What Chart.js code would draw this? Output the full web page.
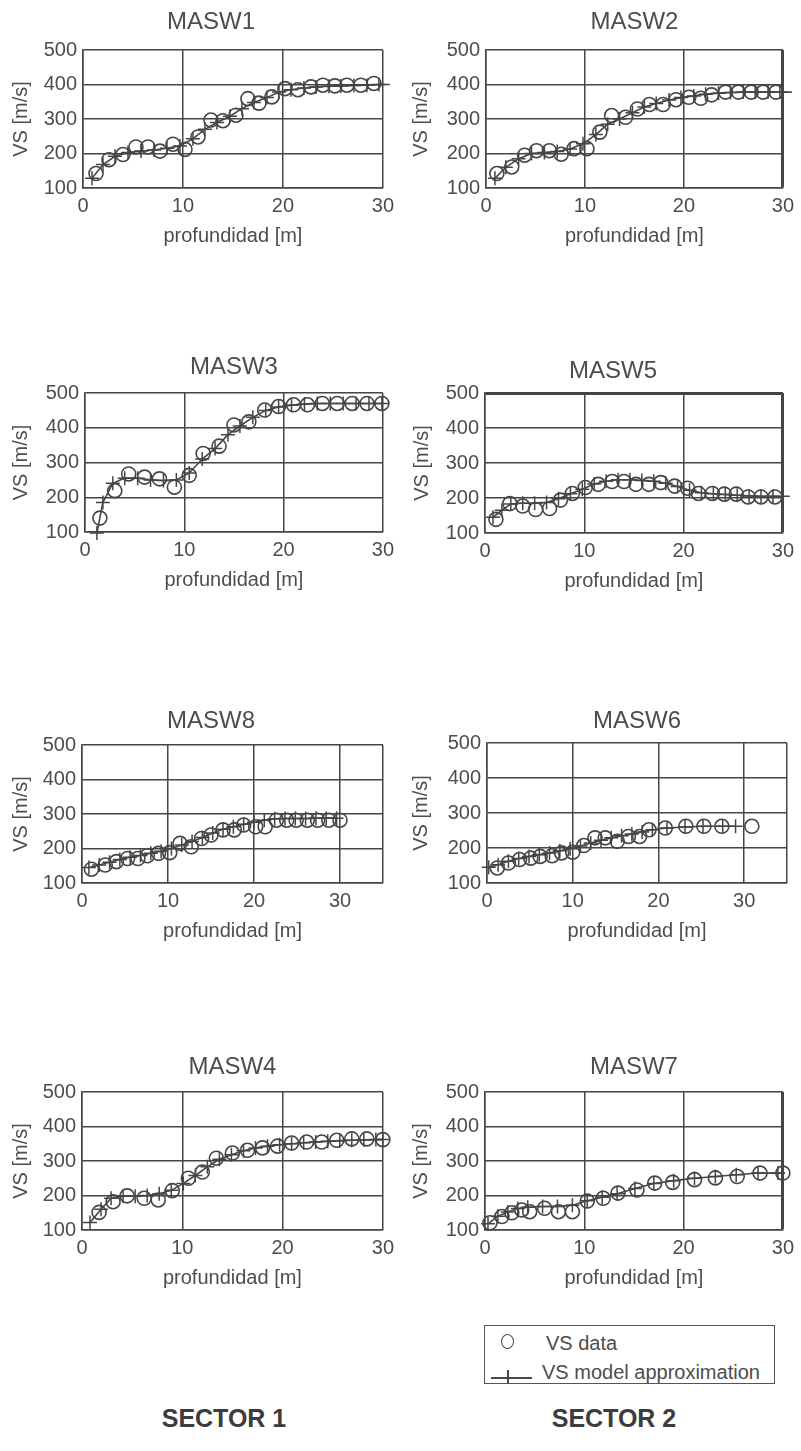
<!DOCTYPE html>
<html>
<head>
<meta charset="utf-8">
<script src="https://cdn.jsdelivr.net/npm/chart.js@4.4.1/dist/chart.umd.min.js"></script>
<style>
  html, body { margin: 0; padding: 0; background: #fff; }
  body { position: relative; width: 801px; height: 1451px; overflow: hidden;
         font-family: "Liberation Sans", Arial, Helvetica, sans-serif; color: #4d4d4d; }
  canvas { position: absolute; }
  #legend { position: absolute; left: 484px; top: 1325px; width: 291px; height: 59px;
            box-sizing: border-box; border: 1.5px solid #555; }
  #legend .txt { position: absolute; font-size: 20px; line-height: 24px; white-space: nowrap; color: #4d4d4d; }
  #legend .circ { position: absolute; left: 16px; top: 8px; width: 13px; height: 15px; box-sizing: border-box;
                  border: 1.5px solid #4a4a4a; border-radius: 50%; }
  #legend .hl { position: absolute; left: 6px; top: 51px; width: 41px; height: 1.5px; background: #4a4a4a; }
  #legend .vl { position: absolute; left: 22px; top: 44px; width: 1.5px; height: 14px; background: #4a4a4a; }
  .sector { position: absolute; width: 200px; text-align: center; font-weight: bold; font-size: 25px;
            line-height: 30px; color: #3c3c3c; top: 1403px; }
</style>
</head>
<body>
<div id="legend">
  <div class="circ"></div>
  <div class="txt" style="left:61px; top:5px;">VS data</div>
  <div class="hl"></div><div class="vl"></div>
  <div class="txt" style="left:57px; top:34px;">VS model approximation</div>
</div>
<div class="sector" style="left:124px;">SECTOR 1</div>
<div class="sector" style="left:514px;">SECTOR 2</div>

<script>
// ---------------- DATA ----------------
const panelTitles = ['MASW1', 'MASW2', 'MASW3', 'MASW5', 'MASW8', 'MASW6', 'MASW4', 'MASW7'];
const xAxisTitle = 'profundidad [m]';
const yAxisTitle = 'VS [m/s]';
const legendLabels = ['VS data', 'VS model approximation'];
const yTicks = [100, 200, 300, 400, 500];
const xTicks = [0, 10, 20, 30];
const xMaxes = [30, 30, 30, 30, 35, 35, 30, 30];

// MASW1
const masw1DepthData = [1.3,2.6,4.0,5.3,6.5,7.7,9.0,10.2,11.5,12.8,14.0,15.3,16.5,17.6,18.9,20.2,21.5,22.8,24.0,25.2,26.4,27.8,29.1];
const masw1VsData    = [142,182,197,219,219,207,227,212,248,297,295,311,359,346,364,388,385,393,398,396,398,398,403];
const masw1DepthModel = [0.9,2.0,3.2,4.5,5.8,7.1,8.4,9.7,11.0,12.2,13.4,14.7,15.9,17.1,18.4,19.6,20.8,22.1,23.3,24.6,25.8,27.1,28.4,29.6,30.7];
const masw1VsModel    = [128,168,192,203,207,210,215,222,243,270,290,308,330,348,362,378,385,390,393,395,396,397,398,400,400];

// MASW2
const masw2DepthData = [1.1,2.6,3.9,5.1,6.4,7.6,8.9,10.2,11.5,12.7,14.1,15.3,16.5,17.9,19.2,20.5,21.7,22.8,24.2,25.5,26.8,28.0,29.3];
const masw2VsData    = [142,161,195,208,208,198,214,214,262,310,305,329,342,342,356,363,360,370,378,378,378,378,378];
const masw2DepthModel = [0.9,2.0,3.3,4.6,5.9,7.2,8.5,9.8,11.1,12.3,13.5,14.8,16.0,17.2,18.5,19.7,21.0,22.2,23.5,24.7,26.0,27.2,28.5,29.7,30.9];
const masw2VsModel    = [128,160,185,200,203,206,213,228,255,285,300,318,335,345,355,362,367,372,375,377,378,378,378,378,378];

// MASW3
const masw3DepthData = [1.5,3.0,4.4,6.0,7.5,9.0,10.5,11.9,13.5,15.0,16.5,18.1,19.5,21.0,22.4,23.9,25.4,26.9,28.4,29.9];
const masw3VsData    = [140,219,267,258,253,229,263,326,347,408,417,451,461,466,466,470,470,470,470,470];
const masw3DepthModel = [1.2,1.8,2.8,4.0,5.3,6.6,7.9,9.2,10.5,11.8,13.1,14.4,15.6,16.9,18.2,19.5,20.8,22.1,23.4,24.7,26.0,27.3,28.6,29.9];
const masw3VsModel    = [97,185,240,255,255,250,248,250,270,310,340,380,405,430,450,460,465,468,470,470,470,470,470,470];

// MASW5
const masw5DepthData = [1.1,2.5,3.8,5.1,6.5,7.6,8.8,10.1,11.4,12.8,14.0,15.2,16.5,17.7,19.1,20.4,21.5,22.9,24.1,25.3,26.5,27.8,29.2];
const masw5VsData    = [139,184,177,167,170,194,213,230,239,247,247,239,239,244,234,228,213,213,211,211,203,203,203];
const masw5DepthModel = [0.8,1.7,2.6,3.8,5.0,6.2,7.4,8.6,9.8,11.0,12.2,13.4,14.6,15.8,17.0,18.2,19.4,20.6,21.8,23.0,24.2,25.4,26.6,27.8,29.0,30.7];
const masw5VsModel    = [145,165,183,185,185,187,198,212,225,240,248,252,252,250,248,242,233,222,215,212,210,208,206,205,205,205];

// MASW8
const masw8DepthData = [1.1,2.7,4.0,5.3,6.5,7.6,8.9,10.2,11.4,12.7,13.9,15.0,16.4,17.7,18.8,20.2,21.3,22.6,23.8,24.9,26.2,27.4,28.7,30.0];
const masw8VsData    = [140,152,162,171,171,179,186,188,215,205,229,239,254,254,268,263,263,282,282,282,282,282,282,282];
const masw8DepthModel = [0.8,2.0,3.2,4.4,5.6,6.8,8.0,9.2,10.4,11.6,12.8,14.0,15.2,16.4,17.6,18.8,20.0,21.2,22.4,23.6,24.8,26.0,27.2,28.4,29.6];
const masw8VsModel    = [145,152,160,168,175,180,186,192,200,210,220,232,245,256,263,270,276,282,286,287,287,287,288,288,288];

// MASW6
const masw6DepthData = [1.2,2.5,3.8,5.1,6.2,7.6,8.7,10.0,11.3,12.6,13.8,15.2,16.5,17.8,18.9,20.8,23.2,25.3,27.4,30.9];
const masw6VsData    = [143,157,167,171,176,178,186,188,207,229,229,219,233,233,252,257,262,262,262,262];
const masw6DepthModel = [0.2,1.3,2.5,3.7,4.9,6.1,7.3,8.5,9.7,10.9,12.1,13.3,14.5,15.7,16.9,18.1,19.3,21.0,23.1,25.2,27.5,29.0];
const masw6VsModel    = [145,152,162,170,176,181,186,192,198,206,214,222,229,235,240,246,252,257,260,262,262,262];

// MASW4
const masw4DepthData = [1.7,3.1,4.5,6.2,7.6,9.0,10.6,12.0,13.4,15.0,16.5,18.0,19.5,20.9,22.4,23.9,25.4,26.9,28.4,30.0];
const masw4VsData    = [151,182,199,192,187,214,250,268,308,323,331,338,343,352,355,355,360,364,364,362];
const masw4DepthModel = [0.8,1.9,2.9,4.1,5.3,6.5,7.7,8.9,10.1,11.3,12.5,13.7,14.9,16.1,17.3,18.5,19.7,20.9,22.1,23.3,24.5,25.7,26.9,28.1,29.3,30.0];
const masw4VsModel    = [122,160,192,198,198,200,205,215,235,258,283,305,318,330,338,343,347,350,353,355,357,359,360,361,362,362];

// MASW7
const masw7DepthData = [0.5,1.7,2.7,3.7,4.5,6.0,7.4,8.8,10.3,11.9,13.4,15.3,17.1,18.9,21.1,23.2,25.4,27.7,30.0];
const masw7VsData    = [121,139,150,158,153,163,153,153,184,192,207,216,236,238,246,251,255,265,265];
const masw7DepthModel = [0.3,1.3,2.3,3.3,4.3,5.8,7.3,8.8,10.3,11.8,13.3,15.1,17.0,19.0,21.1,23.2,25.3,27.5,29.5,30.2];
const masw7VsModel    = [118,140,152,162,166,168,168,172,185,195,205,220,235,243,250,255,260,265,265,265];

const depthData  = [masw1DepthData, masw2DepthData, masw3DepthData, masw5DepthData, masw8DepthData, masw6DepthData, masw4DepthData, masw7DepthData];
const vsData     = [masw1VsData, masw2VsData, masw3VsData, masw5VsData, masw8VsData, masw6VsData, masw4VsData, masw7VsData];
const depthModel = [masw1DepthModel, masw2DepthModel, masw3DepthModel, masw5DepthModel, masw8DepthModel, masw6DepthModel, masw4DepthModel, masw7DepthModel];
const vsModel    = [masw1VsModel, masw2VsModel, masw3VsModel, masw5VsModel, masw8VsModel, masw6VsModel, masw4VsModel, masw7VsModel];

// ---------------- LAYOUT (page pixels) ----------------
// shifted: title centred over the whole panel (fullSize) instead of over the plot
const frames = [
  {cx:0,   cy:0,    L:83,  R:385, T:50,   B:188,  shifted:true,  tx:211, ty:22,   yt:21,  topW:1.5, rightW:1.5},
  {cx:400, cy:0,    L:486, R:787, T:50,   B:188,  shifted:false, tx:0,   ty:22,   yt:421, topW:1.5, rightW:3},
  {cx:0,   cy:340,  L:85,  R:386, T:393,  B:532,  shifted:false, tx:0,   ty:367,  yt:21,  topW:1.5, rightW:1.5},
  {cx:400, cy:340,  L:485, R:787, T:393,  B:533,  shifted:true,  tx:613, ty:371,  yt:422, topW:3,   rightW:3},
  {cx:0,   cy:690,  L:82,  R:383, T:745,  B:883,  shifted:true,  tx:211, ty:721,  yt:21,  topW:1.5, rightW:1.5},
  {cx:400, cy:690,  L:487, R:787, T:743,  B:883,  shifted:false, tx:0,   ty:721,  yt:421, topW:1.5, rightW:1.5},
  {cx:0,   cy:1050, L:82,  R:385, T:1092, B:1230, shifted:false, tx:0,   ty:1067, yt:21,  topW:1.5, rightW:1.5},
  {cx:400, cy:1050, L:485, R:787, T:1092, B:1230, shifted:false, tx:0,   ty:1067, yt:421, topW:1.5, rightW:3}
];

const FONT = '"Liberation Sans", Arial, Helvetica, sans-serif';
const INK = '#454545';
const TEXT = '#4d4d4d';
const CW = 400, CH = 300, XH = 70;
const TITLE_SIZE = 24, TITLE_LH = TITLE_SIZE * 1.2;
const AX_SIZE = 20, AX_LH = AX_SIZE * 1.2;

function buildChart(i) {
  const g = frames[i];
  const xMax = xMaxes[i];
  const canvas = document.createElement('canvas');
  canvas.width = CW; canvas.height = CH;
  canvas.style.left = g.cx + 'px'; canvas.style.top = g.cy + 'px';
  canvas.style.width = CW + 'px'; canvas.style.height = CH + 'px';
  document.body.appendChild(canvas);

  const yW = g.shifted ? Math.max(42, g.L + g.R - 2 * g.tx) : 50;
  const tTop = g.ty - g.cy - TITLE_LH / 2;
  const tBot = g.T - g.cy - tTop - TITLE_LH;

  new Chart(canvas, {
    type: 'scatter',
    data: {
      datasets: [
        {
          label: legendLabels[0],
          data: depthData[i].map((x, k) => ({x: x, y: vsData[i][k]})),
          showLine: false,
          pointStyle: 'circle',
          pointRadius: 7,
          pointHoverRadius: 7,
          pointBorderWidth: 1.6,
          borderColor: INK,
          backgroundColor: 'rgba(0,0,0,0)',
          clip: false
        },
        {
          label: legendLabels[1],
          data: depthModel[i].map((x, k) => ({x: x, y: vsModel[i][k]})),
          showLine: true,
          tension: 0,
          fill: false,
          pointStyle: 'cross',
          pointRadius: ctx => (ctx.raw && ctx.raw.x > xMax) ? 0 : 7,
          pointBorderWidth: 1.5,
          borderWidth: 1.6,
          borderColor: INK,
          backgroundColor: INK,
          clip: false
        }
      ]
    },
    options: {
      responsive: false,
      animation: false,
      devicePixelRatio: 1,
      events: [],
      layout: {
        padding: {
          left: g.L - g.cx - yW,
          right: g.cx + CW - g.R,
          top: 0,
          bottom: g.cy + CH - g.B - XH
        }
      },
      plugins: {
        legend: {display: false},
        tooltip: {enabled: false},
        title: {
          display: true,
          text: panelTitles[i],
          fullSize: g.shifted,
          color: TEXT,
          font: {family: FONT, size: TITLE_SIZE, weight: 'normal', lineHeight: 1.2},
          padding: {top: tTop, bottom: tBot}
        }
      },
      scales: {
        x: {
          type: 'linear',
          min: 0,
          max: xMax,
          afterFit: s => { s.height = XH; },
          afterBuildTicks: s => {
            const vals = xTicks.slice();
            if (vals.indexOf(xMax) < 0) vals.push(xMax);
            s.ticks = vals.map(v => ({value: v}));
          },
          ticks: {
            padding: 6,
            color: TEXT,
            maxRotation: 0,
            autoSkip: false,
            font: {family: FONT, size: AX_SIZE},
            callback: v => (xTicks.indexOf(v) >= 0 ? String(v) : '')
          },
          grid: {
            color: INK,
            drawTicks: false,
            lineWidth: ctx => (ctx.tick && ctx.tick.value === xMax) ? g.rightW : 1.5
          },
          border: {color: INK, width: 1.5},
          title: {
            display: true,
            text: xAxisTitle,
            color: TEXT,
            font: {family: FONT, size: AX_SIZE, lineHeight: 1.2},
            padding: {top: 0, bottom: 10}
          }
        },
        y: {
          type: 'linear',
          min: 100,
          max: 500,
          afterFit: s => { s.width = yW; },
          afterBuildTicks: s => { s.ticks = yTicks.map(v => ({value: v})); },
          ticks: {
            padding: 6,
            color: TEXT,
            font: {family: FONT, size: AX_SIZE}
          },
          grid: {
            color: INK,
            drawTicks: false,
            lineWidth: ctx => (ctx.tick && ctx.tick.value === 500) ? g.topW : 1.5
          },
          border: {color: INK, width: 1.5},
          title: {
            display: true,
            text: yAxisTitle,
            color: TEXT,
            font: {family: FONT, size: AX_SIZE, lineHeight: 1.2},
            padding: {top: g.yt - (g.L - yW) - AX_LH / 2, bottom: 0}
          }
        }
      }
    }
  });
}

for (let i = 0; i < panelTitles.length; i++) buildChart(i);
</script>
</body>
</html>
